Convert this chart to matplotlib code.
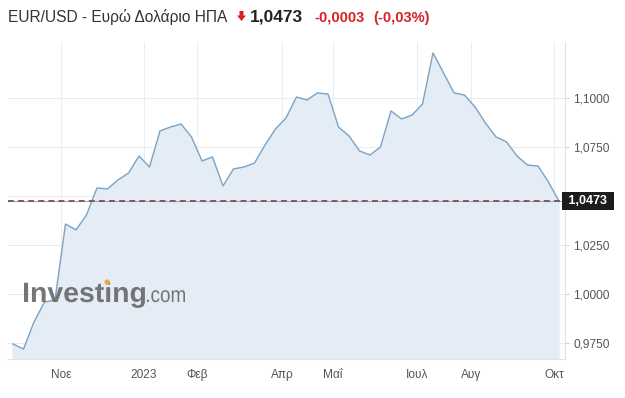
import numpy as np
import matplotlib
matplotlib.use("Agg")
import matplotlib.pyplot as plt
from matplotlib.patches import Polygon, Circle, PathPatch
from matplotlib.textpath import TextPath
from matplotlib.font_manager import FontProperties
from matplotlib.transforms import Affine2D, blended_transform_factory

plt.rcParams["font.family"] = ["Liberation Sans", "DejaVu Sans"]

# weekly closes, EUR/USD
prices = [
    0.9745, 0.9719, 0.9857, 0.9959, 0.9969, 1.0357, 1.0327, 1.0403, 1.0541, 1.0536,
    1.0582, 1.0617, 1.0704, 1.0648, 1.0832, 1.0852, 1.0867, 1.0801, 1.0679, 1.0699,
    1.0551, 1.0638, 1.0648, 1.0668, 1.0760, 1.0842, 1.0898, 1.1005, 1.0990, 1.1026,
    1.1020, 1.0852, 1.0806, 1.0730, 1.0709, 1.0750, 1.0934, 1.0893, 1.0913, 1.0969,
    1.1230, 1.1128, 1.1026, 1.1015, 1.0954, 1.0872, 1.0801, 1.0776, 1.0704, 1.0658,
    1.0653, 1.0571, 1.0473,
]
last_price = 1.0473

month_labels = ["Νοε", "2023", "Φεβ", "Απρ", "Μαΐ", "Ιουλ", "Αυγ", "Οκτ"]
month_pos    = [4.57, 12.48, 17.52, 25.62, 30.48, 38.48, 43.62, 51.52]

y_ticks = [0.975, 1.000, 1.025, 1.050, 1.075, 1.100]

W, H = 625, 398
fig = plt.figure(figsize=(W / 100, H / 100), dpi=100)
fig.patch.set_facecolor("white")

left, right, bottom, top = 8, 565, 359, 42
ax = fig.add_axes([left / W, 1 - bottom / H, (right - left) / W, (bottom - top) / H])

x = np.arange(len(prices))
ax.fill_between(x, prices, 0.9, color="#e4edf6", zorder=1)
ax.plot(x, prices, color="#7ea4c4", linewidth=1.0, zorder=2)

ax.set_xlim(-0.476, 52.57)
ax.set_ylim(0.96684, 1.12857)

# grid + ticks
ax.set_xticks(month_pos)
ax.set_xticklabels(month_labels)
ax.set_yticks(y_ticks)
# 1,0500 sits under the price box, so its label is left blank
ax.set_yticklabels(["" if v == 1.05 else f"{v:.4f}".replace(".", ",") for v in y_ticks])
ax.grid(True, color="#e9edf0", linewidth=0.7, zorder=0)
ax.set_axisbelow(True)

ax.yaxis.tick_right()
ax.tick_params(axis="y", length=3, color="#cfd6dc", pad=3, labelsize=8.6, labelcolor="#555555")
ax.tick_params(axis="x", length=0, pad=7, labelsize=8.6, labelcolor="#555555")

for side in ["top", "left"]:
    ax.spines[side].set_visible(False)
for side in ["bottom", "right"]:
    ax.spines[side].set_color("#dde3e8")
    ax.spines[side].set_linewidth(0.8)

# current price line
ax.axhline(last_price, color="#e08a94", linewidth=0.8, zorder=3)
ax.axhline(last_price, color="#6e5e6c", linewidth=1.4, dashes=(3, 2.2), zorder=3)

trans = blended_transform_factory(ax.transAxes, ax.transData)
ax.text(1.0, last_price, " 1,0473 ", transform=trans, ha="left", va="center",
        color="white", fontsize=9, fontweight="bold", zorder=10, clip_on=False,
        bbox=dict(boxstyle="square,pad=0.25", facecolor="#1c1c1c", edgecolor="none"))


# watermark, drawn as squeezed text paths (pixel units, origin top-left)
def squeezed_text(s, x0, baseline, width, size, weight):
    tp = TextPath((0, 0), s, size=size,
                  prop=FontProperties(family="Liberation Sans", weight=weight))
    ext = tp.get_extents()
    sx = width / ext.width
    tr = (Affine2D().translate(-ext.x0, 0).scale(sx / 100, 1 / 100)
          .translate(x0 / 100, (H - baseline) / 100))
    patch = PathPatch(tp, facecolor="#6a6a6a", edgecolor="none", alpha=0.92,
                      transform=tr + fig.dpi_scale_trans)
    fig.patches.append(patch)


squeezed_text("Investing", 24, 302, 121, 28, "bold")
squeezed_text(".com", 147, 302, 38, 22, "normal")
fig.patches.append(Circle((107 / 100, (H - 282) / 100), 2.6 / 100, facecolor="#f2a93b",
                          edgecolor="none", transform=fig.dpi_scale_trans))

# header
fig.text(8 / W, 1 - 22 / H, "EUR/USD - Ευρώ Δολάριο ΗΠΑ", fontsize=11.2,
         color="#333333", ha="left", va="baseline")
arrow_px = np.array([[239.5, 11], [243.5, 11], [243.5, 15.5], [246, 15.5],
                     [241.5, 21], [237, 15.5], [239.5, 15.5]])
arrow = Polygon(np.column_stack([arrow_px[:, 0] / 100, (H - arrow_px[:, 1]) / 100]),
                closed=True, facecolor="#d62222", edgecolor="none",
                transform=fig.dpi_scale_trans)
fig.patches.append(arrow)
fig.text(250 / W, 1 - 22 / H, "1,0473", fontsize=12.5, fontweight="bold",
         color="#222222", ha="left", va="baseline")
fig.text(314 / W, 1 - 22 / H, "-0,0003", fontsize=10.5, fontweight="bold",
         color="#d62222", ha="left", va="baseline")
fig.text(373 / W, 1 - 22 / H, "(-0,03%)", fontsize=10.5, fontweight="bold",
         color="#d62222", ha="left", va="baseline")

fig.savefig("out.png", dpi=100, facecolor="white")
